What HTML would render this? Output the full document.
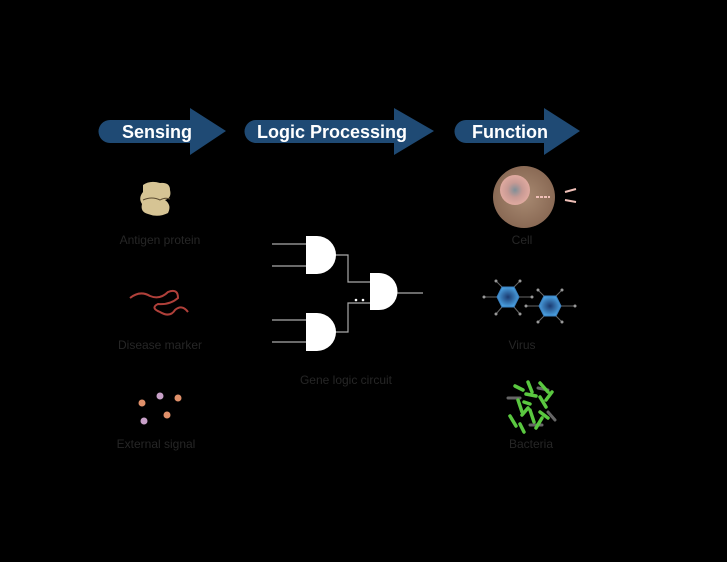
<!DOCTYPE html>
<html><head><meta charset="utf-8"><style>
html,body{margin:0;padding:0;background:#000;}
svg{display:block;}
text{font-family:"Liberation Sans",sans-serif;}
</style></head><body>
<svg width="727" height="562" viewBox="0 0 727 562" xmlns="http://www.w3.org/2000/svg">
<rect width="727" height="562" fill="#000"/>
<defs>
<radialGradient id="cell" cx="50%" cy="50%" r="50%"><stop offset="0" stop-color="#a88a72"/><stop offset="1" stop-color="#8a6a55"/></radialGradient>
<radialGradient id="nuc" cx="50%" cy="50%" r="50%"><stop offset="0" stop-color="#7f8f98"/><stop offset="0.5" stop-color="#c89a94"/><stop offset="1" stop-color="#e0aaa0"/></radialGradient>
<radialGradient id="hex" cx="50%" cy="50%" r="50%"><stop offset="0" stop-color="#1a3a70"/><stop offset="1" stop-color="#4aa0e0"/></radialGradient>
</defs>
<g fill="#1f4a74">
<path d="M110,120 H190 V108 L226,131 L190,155 V143 H110 A11.5,11.5 0 0 1 110,120 Z"/>
<path d="M256,120 H394 V108 L434,131 L394,155 V143 H256 A11.5,11.5 0 0 1 256,120 Z"/>
<path d="M466,120 H544 V108 L580,131 L544,155 V143 H466 A11.5,11.5 0 0 1 466,120 Z"/>
</g>
<g fill="#fff" font-weight="bold" font-size="18">
<text x="122" y="138">Sensing</text>
<text x="257" y="138">Logic Processing</text>
<text x="472" y="138">Function</text>
</g>
<path d="M143,185 Q150,180 160,183 Q170,182 170,190 Q172,198 165,200 Q172,205 168,213 Q158,218 148,214 Q140,212 142,204 Q138,198 143,192 Z" fill="#d6c494"/>
<path d="M143,200 Q152,196 160,200 Q165,197 170,199" stroke="#5a4a30" fill="none" stroke-width="1"/>
<path d="M130,298 Q140,290 150,296 Q160,300 168,292 Q178,288 178,298 Q170,305 158,304 Q150,308 160,312 Q170,318 175,310 Q182,304 188,312" stroke="#b0403a" stroke-width="2" fill="none"/>
<g><circle cx="142" cy="403" r="3.5" fill="#e0906a"/><circle cx="160" cy="396" r="3.5" fill="#c8a0c8"/><circle cx="178" cy="398" r="3.5" fill="#e0906a"/><circle cx="167" cy="415" r="3.5" fill="#e0906a"/><circle cx="144" cy="421" r="3.5" fill="#c8a0c8"/></g>
<g fill="#262626" font-size="12" text-anchor="middle">
<text x="160" y="244">Antigen protein</text>
<text x="160" y="349">Disease marker</text>
<text x="156" y="448">External signal</text>
<text x="346" y="384">Gene logic circuit</text>
<text x="522" y="244">Cell</text>
<text x="522" y="349">Virus</text>
<text x="531" y="448">Bacteria</text>
</g>
<g stroke="#aaa" stroke-width="1.2" fill="none">
<path d="M272,244H306M272,266H306M272,320H306M272,342H306"/>
<path d="M335,255H348V282H370M335,332H348V303H370M397,293H423"/>
</g>
<g fill="#fff">
<path d="M306,236H317A19,19 0 0 1 317,274H306Z"/>
<path d="M306,313H317A19,19 0 0 1 317,351H306Z"/>
<path d="M370,273H379A18.5,18.5 0 0 1 379,310H370Z"/>
<circle cx="356" cy="300" r="1.3"/><circle cx="363" cy="300" r="1.3"/>
</g>
<circle cx="524" cy="197" r="31" fill="url(#cell)"/>
<circle cx="515" cy="190" r="15" fill="url(#nuc)"/>
<path d="M536,197H550" stroke="#f0c0b8" stroke-width="2" stroke-dasharray="3,1"/>
<path d="M565,192L576,189M565,200L576,202" stroke="#f0c0b8" stroke-width="2"/>
<g stroke="#666" stroke-width="1">
<path d="M502,287L496,281M514,287L520,281M497,297L484,297M519,297L532,297M502,307L496,314M514,307L520,314"/>
<path d="M544,296L538,290M556,296L562,290M539,306L526,306M561,306L575,306M544,316L538,322M556,316L562,322"/>
</g>
<g fill="#999"><circle cx="496" cy="281" r="1.5"/><circle cx="520" cy="281" r="1.5"/><circle cx="484" cy="297" r="1.5"/><circle cx="532" cy="297" r="1.5"/><circle cx="496" cy="314" r="1.5"/><circle cx="520" cy="314" r="1.5"/>
<circle cx="538" cy="290" r="1.5"/><circle cx="562" cy="290" r="1.5"/><circle cx="526" cy="306" r="1.5"/><circle cx="575" cy="306" r="1.5"/><circle cx="538" cy="322" r="1.5"/><circle cx="562" cy="322" r="1.5"/></g>
<polygon points="497,297 502,287 514,287 519,297 514,307 502,307" fill="url(#hex)" stroke="#3a80c0"/>
<polygon points="539,306 544,296 556,296 561,306 556,316 544,316" fill="url(#hex)" stroke="#3a80c0"/>
<g stroke="#666" stroke-width="3" stroke-linecap="round">
<path d="M508,398L520,398M538,388L548,390M548,412L555,420M530,425L542,425"/>
</g>
<g stroke="#5ac840" stroke-width="3.5" stroke-linecap="round">
<path d="M515,386L523,390M528,382L532,392M540,383L548,392M518,400L522,412M526,394L536,396M540,397L546,407M510,416L516,426M522,415L528,408M530,410L534,422M540,412L548,418M520,424L524,432M536,428L542,418M546,400L552,392M524,402L530,404"/>
</g>
</svg>
</body></html>
